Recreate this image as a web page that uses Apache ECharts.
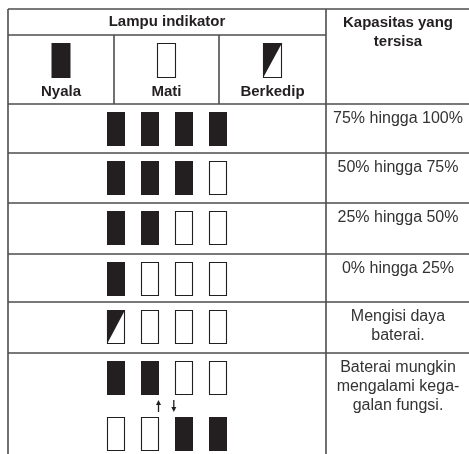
<!DOCTYPE html>
<html><head><meta charset="utf-8">
<script src="https://cdn.jsdelivr.net/npm/echarts@6/dist/echarts.min.js"></script>
<style>html,body{margin:0;padding:0;background:#fff}#c{width:469px;height:454px}</style>
</head><body><div id="c"></div>
<script>
// ---------- DATA ----------
const titleText = 'Lampu indikator';
const capacityHeader = ['Kapasitas yang', 'tersisa'];
const legendLabels = ['Nyala', 'Mati', 'Berkedip'];
const legendStates = ['on', 'off', 'blink'];
const lampRows = [
  ['on', 'on', 'on', 'on'],
  ['on', 'on', 'on', 'off'],
  ['on', 'on', 'off', 'off'],
  ['on', 'off', 'off', 'off'],
  ['blink', 'off', 'off', 'off'],
  ['on', 'on', 'off', 'off']
];
const alternateRow = ['off', 'off', 'on', 'on'];
const capacityTexts = [
  ['75% hingga 100%'],
  ['50% hingga 75%'],
  ['25% hingga 50%'],
  ['0% hingga 25%'],
  ['Mengisi daya', 'baterai.'],
  ['Baterai mungkin', 'mengalami kega-', 'galan fungsi.']
];

// ---------- LAYOUT (pixel units of the hidden axes) ----------
const W = 469, H = 454;
const L = {
  left: 8, top: 9, headerSplit: 35, headerBottom: 104,
  colDivs: [114, 219], capDiv: 326, right: W, bottom: H,
  rowTops: [104, 153, 203, 254, 302, 353],
  lampX0: 116, lampDX: 34, lampW: 18, lampH: 34, lampDY: 25, altDY: 81,
  legendY: 60.5, legendW: 19, legendH: 35, legendLabelY: 92,
  arrowSlots: [1, 2], arrowDY: 53, arrowLen: 12,
  capX: 398, capDY: 15, capLine: 19,
  titleY: 22, capHeadY: [23, 42]
};
const INK = '#231f20';
const LINE = '#4d4d4d';
const stateCode = {on: 0, off: 1, blink: 2};

// ---------- BUILD ----------
const segs = [
  [L.left, L.top, L.right, L.top],
  [L.left, L.headerSplit, L.capDiv, L.headerSplit],
  [L.left, L.headerBottom, L.right, L.headerBottom],
  [L.left, L.top, L.left, L.bottom],
  [L.capDiv, L.top, L.capDiv, L.bottom]
];
L.colDivs.forEach(x => segs.push([x, L.headerSplit, x, L.headerBottom]));
L.rowTops.slice(1).forEach(y => segs.push([L.left, y, L.right, y]));

const colCenters = [
  (L.left + L.colDivs[0]) / 2,
  (L.colDivs[0] + L.colDivs[1]) / 2,
  (L.colDivs[1] + L.capDiv) / 2
];

const lamps = [];
legendStates.forEach((s, i) => lamps.push([colCenters[i], L.legendY, stateCode[s], L.legendW, L.legendH]));
lampRows.forEach((row, r) => row.forEach((s, k) =>
  lamps.push([L.lampX0 + k * L.lampDX, L.rowTops[r] + L.lampDY, stateCode[s], L.lampW, L.lampH])));
const lastTop = L.rowTops[L.rowTops.length - 1];
alternateRow.forEach((s, k) =>
  lamps.push([L.lampX0 + k * L.lampDX, lastTop + L.lampDY + L.altDY - L.lampDY, stateCode[s], L.lampW, L.lampH]));

const texts = [];
texts.push([(L.left + L.capDiv) / 2, L.titleY, titleText, 1]);
capacityHeader.forEach((t, i) => texts.push([L.capX, L.capHeadY[i], t, 1]));
legendLabels.forEach((t, i) => texts.push([colCenters[i], L.legendLabelY, t, 1]));
capacityTexts.forEach((lines, r) => lines.forEach((t, j) =>
  texts.push([L.capX, L.rowTops[r] + L.capDY + j * L.capLine, t, 0])));

const arrows = L.arrowSlots.map((slot, i) => {
  const x = L.lampX0 + (slot - 0.5) * L.lampDX + (i === 0 ? 0.5 : -0.5) * 0; 
  return [x, lastTop + L.arrowDY, i === 0 ? -1 : 1];
});
// arrows sit between slot pairs
arrows[0][0] = L.lampX0 + 1.25 * L.lampDX;
arrows[1][0] = L.lampX0 + 1.7 * L.lampDX;

const chart = echarts.init(document.getElementById('c'), null, {renderer: 'canvas'});
chart.setOption({
  animation: false,
  backgroundColor: '#fff',
  grid: {left: 0, top: 0, right: 0, bottom: 0},
  xAxis: {type: 'value', min: 0, max: W, show: false},
  yAxis: {type: 'value', min: 0, max: H, inverse: true, show: false},
  series: [
    {
      type: 'custom', silent: true, clip: false, data: segs,
      renderItem: (p, api) => {
        const a = api.coord([api.value(0), api.value(1)]);
        const b = api.coord([api.value(2), api.value(3)]);
        return {type: 'line', shape: {x1: a[0], y1: a[1], x2: b[0], y2: b[1]},
          style: {stroke: LINE, lineWidth: 1.6}};
      }
    },
    {
      type: 'custom', silent: true, clip: false, data: lamps,
      renderItem: (p, api) => {
        const c = api.coord([api.value(0), api.value(1)]);
        const st = api.value(2), w = api.value(3), h = api.value(4);
        const x = c[0] - w / 2, y = c[1] - h / 2;
        if (st === 0) {
          return {type: 'rect', shape: {x, y, width: w, height: h}, style: {fill: INK}};
        }
        const box = {type: 'rect', shape: {x: x + 0.5, y: y + 0.5, width: w - 1, height: h - 1},
          style: {fill: '#fff', stroke: INK, lineWidth: 1.1}};
        if (st === 1) return box;
        return {type: 'group', children: [box, {type: 'polygon',
          shape: {points: [[x, y], [x + w, y], [x, y + h]]}, style: {fill: INK}}]};
      }
    },
    {
      type: 'custom', silent: true, clip: false, data: arrows,
      renderItem: (p, api) => {
        const c = api.coord([api.value(0), api.value(1)]);
        const dir = api.value(2), half = L.arrowLen / 2;
        const tip = c[1] + dir * half, tail = c[1] - dir * half;
        return {type: 'group', children: [
          {type: 'line', shape: {x1: c[0], y1: tail, x2: c[0], y2: tip - dir * 3}, style: {stroke: INK, lineWidth: 1.3}},
          {type: 'polygon', shape: {points: [[c[0], tip], [c[0] - 2.5, tip - dir * 5], [c[0] + 2.5, tip - dir * 5]]}, style: {fill: INK}}
        ]};
      }
    },
    {
      type: 'custom', silent: true, clip: false, data: texts,
      dimensions: ['x', 'y', {name: 't', type: 'ordinal'}, 'b'],
      renderItem: (p, api) => {
        const d = texts[p.dataIndex];
        const c = api.coord([d[0], d[1]]);
        const bold = d[3] === 1;
        return {type: 'text', x: c[0], y: c[1], style: {
          text: d[2], align: 'center', verticalAlign: 'middle',
          font: (bold ? 'bold 15px' : '16px') + ' "Liberation Sans", Arial, sans-serif',
          fill: bold ? INK : '#333'}};
      }
    }
  ]
});
</script></body></html>
